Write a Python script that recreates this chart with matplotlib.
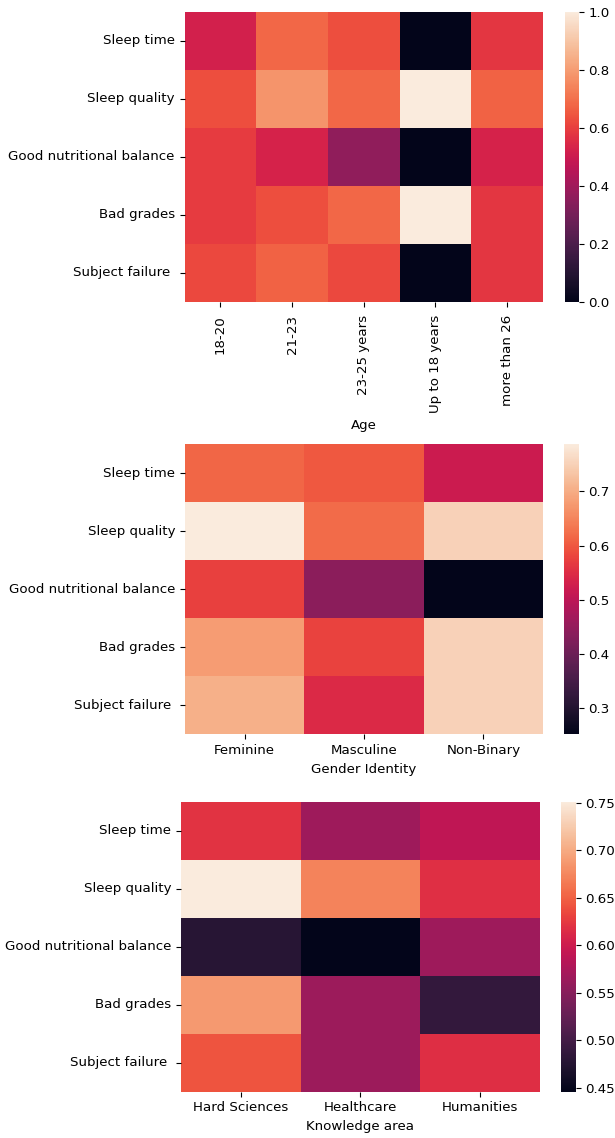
import matplotlib
matplotlib.use("Agg")
import matplotlib.pyplot as plt
import numpy as np
import pandas as pd
import seaborn as sns

plt.rcParams['font.family'] = ['DejaVu Sans']

habits = ["Sleep time", "Sleep quality", "Good nutritional balance",
          "Bad grades", "Subject failure "]

age_groups = ["18-20", "21-23", "23-25 years", "Up to 18 years", "more than 26"]
age_values = [
    [0.52, 0.68, 0.63, 0.00, 0.58],
    [0.63, 0.78, 0.68, 1.00, 0.67],
    [0.59, 0.53, 0.36, 0.00, 0.53],
    [0.59, 0.63, 0.68, 1.00, 0.58],
    [0.62, 0.67, 0.62, 0.00, 0.58],
]

gender_groups = ["Feminine", "Masculine", "Non-Binary"]
gender_values = [
    [0.615, 0.600, 0.520],
    [0.787, 0.620, 0.750],
    [0.575, 0.440, 0.252],
    [0.680, 0.577, 0.750],
    [0.705, 0.545, 0.750],
]

area_groups = ["Hard Sciences", "Healthcare", "Humanities"]
area_values = [
    [0.620, 0.566, 0.590],
    [0.751, 0.672, 0.618],
    [0.478, 0.446, 0.566],
    [0.687, 0.565, 0.487],
    [0.642, 0.565, 0.617],
]

W, H = 615, 1138
fig = plt.figure(figsize=(W / 100, H / 100), dpi=100)


def box(x0, y0, x1, y1):
    return [x0 / W, (H - y1) / H, (x1 - x0) / W, (y1 - y0) / H]


panels = [
    (age_values, age_groups, "Age", (184.5, 11.7, 543, 301.7), (564.5, 578.5), 90),
    (gender_values, gender_groups, "Gender Identity", (185, 444.3, 543, 734.3), (564, 578.7), 0),
    (area_values, area_groups, "Knowledge area", (181, 801.7, 539.5, 1091.7), (561, 575.7), 0),
]

for values, groups, xlabel, (x0, y0, x1, y1), (c0, c1), rot in panels:
    df = pd.DataFrame(values, index=habits, columns=groups)
    ax = fig.add_axes(box(x0, y0, x1, y1))
    cax = fig.add_axes(box(c0, y0, c1, y1))
    sns.heatmap(df, ax=ax, cbar_ax=cax, cmap="rocket")
    ax.set_xlabel(xlabel, fontsize=9.6)
    ax.set_ylabel("")
    ax.tick_params(labelsize=9.6)
    ax.set_yticklabels(habits, rotation=0)
    ax.set_xticklabels(groups, rotation=rot)
    if rot:
        ax.tick_params(axis="x", pad=6)
    cax.tick_params(labelsize=9.6)

fig.savefig("out.png", dpi=100)
